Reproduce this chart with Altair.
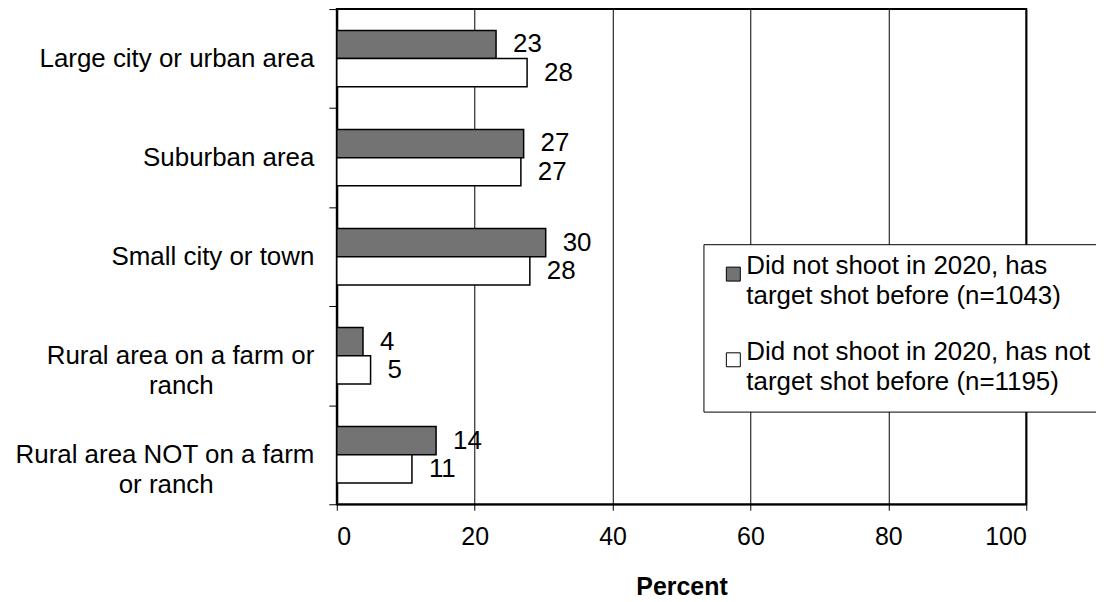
import altair as alt
import pandas as pd

PAD = "\u00a0" * 14 + "\u200b"
categories = [
    "Large city or urban area",
    "Suburban area",
    "Small city or town",
    "Rural area on a farm or|ranch" + PAD,
    "Rural area NOT on a farm|or ranch" + PAD,
]
series = [
    "Did not shoot in 2020, has|target shot before (n=1043)",
    "Did not shoot in 2020, has not|target shot before (n=1195)",
]
has_shot_before = [23.1, 27.1, 30.3, 3.8, 14.4]
not_shot_before = [27.6, 26.7, 28.0, 4.9, 10.9]
x_ticks = [0, 20, 40, 60, 80, 100]
colors = ["#737373", "#ffffff"]

rows = []
for i, c in enumerate(categories):
    rows.append({"area": c, "group": series[0], "pct": has_shot_before[i]})
    rows.append({"area": c, "group": series[1], "pct": not_shot_before[i]})
df = pd.DataFrame(rows)

FONT = "Liberation Sans"

x_enc = alt.X(
    "pct:Q",
    scale=alt.Scale(domain=[0, 100], nice=False),
    axis=alt.Axis(
        values=x_ticks, grid=True, gridColor="black", gridOpacity=1, gridWidth=1,
        tickSize=6, tickColor="black", domainColor="black", domainWidth=1.5,
        labelFont=FONT, labelFontSize=25, labelColor="black", labelPadding=14,
        title="Percent", titleFont=FONT, titleFontSize=25, titleFontWeight="bold",
        titleColor="black", titlePadding=26,
    ),
)

y_enc = alt.Y(
    "area:N", sort=categories, title=None,
    scale=alt.Scale(paddingInner=0, paddingOuter=0),
    axis=alt.Axis(
        labelExpr="split(datum.label, '|')",
        labelFont=FONT, labelFontSize=26, labelColor="black", labelLineHeight=30,
        labelLimit=500, labelAlign="right", labelPadding=15,
        tickBand="extent", tickSize=8, tickColor="black",
        domainColor="black", domainWidth=2, grid=False,
    ),
)

yoff = alt.YOffset("group:N", sort=series,
                   scale=alt.Scale(paddingInner=0, paddingOuter=0.755))

bars = alt.Chart(df).mark_bar(stroke="black", strokeWidth=1.5).encode(
    x=x_enc,
    y=y_enc,
    yOffset=yoff,
    fill=alt.Fill(
        "group:N", sort=series,
        scale=alt.Scale(domain=series, range=colors),
        legend=alt.Legend(
            title=None, orient="none", legendX=368, legendY=236,
            labelExpr="split(datum.label, '|')",
            labelFont=FONT, labelFontSize=26, labelLimit=600,
            labelColor="black", labelBaseline="alphabetic", labelOffset=0,
            symbolType="square", symbolSize=196, symbolStrokeColor="black",
            symbolStrokeWidth=1,
            strokeColor="black", fillColor="white", padding=17, rowPadding=30,
            cornerRadius=0,
        ),
    ),
)

labels = alt.Chart(df).mark_text(
    align="left", baseline="middle", dx=17, font=FONT, fontSize=26, color="black"
).encode(
    x=x_enc,
    y=y_enc,
    yOffset=yoff,
    text=alt.Text("pct:Q", format=".0f"),
)

chart = alt.layer(bars, labels).properties(
    width=692, height=497,
    autosize=alt.AutoSizeParams(type="none"),
    padding={"left": 330, "top": 0, "right": 70, "bottom": 94},
).configure(
    background="white",
    style={"guide-label": {"lineHeight": 30}},
    view=alt.ViewConfig(stroke="black", strokeWidth=2),
)

chart.save("out.html", embed_options={"renderer": "svg", "actions": False})
